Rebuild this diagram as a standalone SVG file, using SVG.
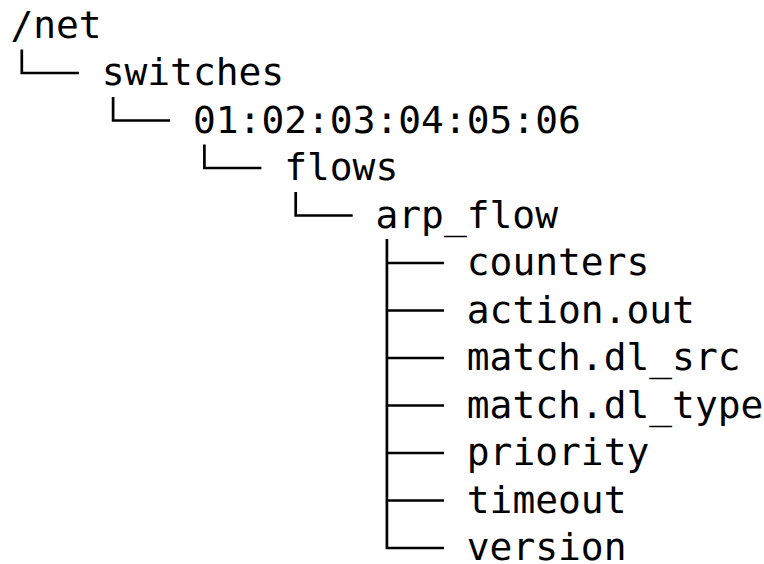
<svg xmlns="http://www.w3.org/2000/svg" width="764" height="564" viewBox="0 0 764 564">
  <style>
    .label { font-family: "DejaVu Sans Mono", "Liberation Mono", monospace; font-size: 37.9px; fill: #000; }
    .branch { fill: none; stroke: #000; stroke-width: 2.7; stroke-linejoin: miter; stroke-linecap: butt; }
  </style>
  <rect width="764" height="564" fill="#fff"/>

  <!-- tree branches -->
  <g id="connectors">
    <path class="branch" d="M21.8 49.5 V73 H78.9"/>
    <path class="branch" d="M113.1 97 V120.5 H170.1"/>
    <path class="branch" d="M204.4 144.5 V168 H261.4"/>
    <path class="branch" d="M295.7 192 V215.5 H352.7"/>
    <!-- children of arp_flow share one trunk -->
    <path class="branch" d="M386.9 239 V548 H444"/>
    <path class="branch" d="M386.9 263 H444"/>
    <path class="branch" d="M386.9 310.5 H444"/>
    <path class="branch" d="M386.9 358 H444"/>
    <path class="branch" d="M386.9 405.5 H444"/>
    <path class="branch" d="M386.9 453 H444"/>
    <path class="branch" d="M386.9 500.5 H444"/>
  </g>

  <g id="net"><text class="label" x="10.4" y="37.5">/net</text></g>
  <g id="switches"><text class="label" x="101.7" y="85">switches</text></g>
  <g id="switch-id"><text class="label" x="193" y="132.5">01:02:03:04:05:06</text></g>
  <g id="flows"><text class="label" x="284.2" y="180">flows</text></g>
  <g id="arp_flow"><text class="label" x="375.5" y="227.5">arp_flow</text></g>
  <g id="counters"><text class="label" x="466.8" y="275">counters</text></g>
  <g id="action-out"><text class="label" x="466.8" y="322.5">action.out</text></g>
  <g id="match-dl_src"><text class="label" x="466.8" y="370">match.dl_src</text></g>
  <g id="match-dl_type"><text class="label" x="466.8" y="417.5">match.dl_type</text></g>
  <g id="priority"><text class="label" x="466.8" y="465">priority</text></g>
  <g id="timeout"><text class="label" x="466.8" y="512.5">timeout</text></g>
  <g id="version"><text class="label" x="466.8" y="560">version</text></g>
</svg>
